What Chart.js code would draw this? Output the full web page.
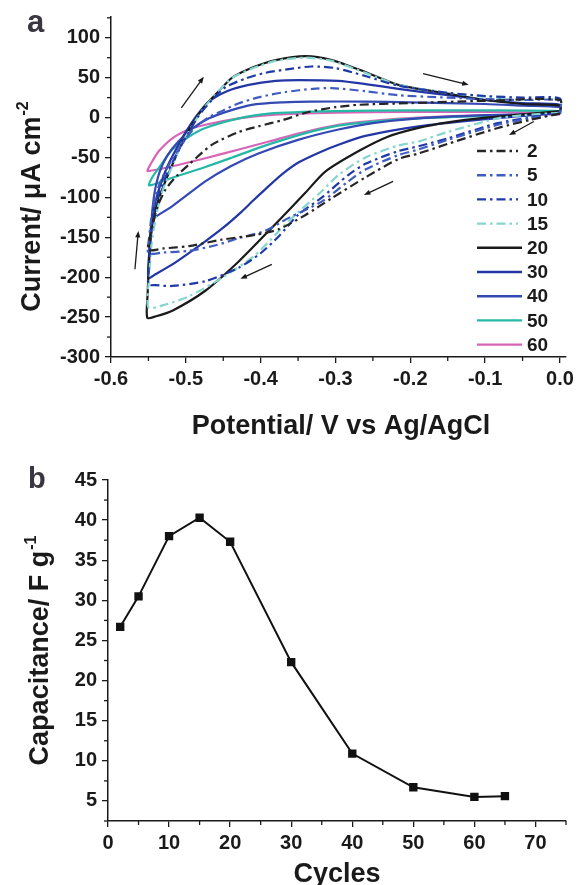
<!DOCTYPE html>
<html>
<head>
<meta charset="utf-8">
<script src="https://cdn.jsdelivr.net/npm/chart.js@4.4.1/dist/chart.umd.min.js"></script>
<style>
html, body { margin: 0; padding: 0; background: #fff; }
#wrapA { position: absolute; left: 0; top: 0; width: 578px; height: 450px; }
#wrapB { position: absolute; left: 0; top: 450px; width: 578px; height: 435px; }
</style>
</head>
<body>
<div id="wrapA"><canvas id="chartA" width="578" height="450"></canvas></div>
<div id="wrapB"><canvas id="chartB" width="578" height="435"></canvas></div>
<script>
// ---- panel a: CV loops, [potential V, current uA/cm2], cathodic sweep then anodic sweep
var cv2 = [[0,5],[-0.04,-3],[-0.083,-13],[-0.15,-33],[-0.189,-45],[-0.216,-52],[-0.26,-75],[-0.305,-101],[-0.34,-122],[-0.376,-140],[-0.407,-147],[-0.452,-153],[-0.496,-161],[-0.53,-164],[-0.55,-166],
  [-0.548,-150],[-0.545,-138],[-0.538,-112],[-0.527,-90],[-0.512,-73],[-0.496,-59],[-0.465,-34],[-0.429,-18],[-0.403,-11],[-0.37,-3],[-0.336,7],[-0.3,13],[-0.269,16],[-0.203,18],[-0.1,21],[0,22]];
var cv5 = [[0,5],[-0.04,-1],[-0.083,-9],[-0.15,-28],[-0.189,-40],[-0.216,-47],[-0.26,-65],[-0.283,-80],[-0.318,-105],[-0.363,-126],[-0.394,-142],[-0.429,-151],[-0.46,-160],[-0.496,-167],[-0.53,-169],[-0.55,-170],
  [-0.549,-150],[-0.546,-125],[-0.541,-100],[-0.533,-78],[-0.52,-55],[-0.505,-33],[-0.49,-15],[-0.47,0],[-0.45,9],[-0.429,18],[-0.4,26],[-0.367,32],[-0.33,36],[-0.305,37],[-0.26,33],[-0.216,28],[-0.15,25],[-0.1,23],[-0.05,22],[0,21]];
var cv10 = [[0,5],[-0.04,0],[-0.083,-7],[-0.15,-26],[-0.189,-36],[-0.216,-42],[-0.26,-58],[-0.283,-72],[-0.318,-100],[-0.35,-122],[-0.375,-148],[-0.4,-170],[-0.429,-188],[-0.474,-205],[-0.518,-211],[-0.54,-210],[-0.55,-209],
  [-0.549,-180],[-0.547,-150],[-0.543,-120],[-0.536,-95],[-0.525,-70],[-0.512,-45],[-0.5,-25],[-0.483,2],[-0.465,22],[-0.447,38],[-0.42,49],[-0.394,56],[-0.36,61],[-0.332,64],[-0.3,62],[-0.26,52],[-0.216,40],[-0.15,31],[-0.1,27],[-0.05,25],[0,24]];
var cv15 = [[0,6],[-0.05,3],[-0.083,-1],[-0.15,-18],[-0.189,-30],[-0.216,-35],[-0.26,-50],[-0.296,-72],[-0.318,-92],[-0.363,-130],[-0.407,-172],[-0.452,-201],[-0.496,-224],[-0.53,-235],[-0.55,-238],
  [-0.549,-200],[-0.546,-160],[-0.54,-125],[-0.533,-97],[-0.518,-60],[-0.505,-32],[-0.49,-8],[-0.475,13],[-0.456,33],[-0.438,50],[-0.41,62],[-0.38,71],[-0.34,75],[-0.305,71],[-0.26,56],[-0.216,41],[-0.15,31],[-0.1,26],[-0.05,23],[0,22]];
var cv20 = [[0,8],[-0.05,4],[-0.1,0],[-0.15,-6],[-0.189,-13],[-0.23,-24],[-0.269,-42],[-0.314,-68],[-0.34,-94],[-0.385,-138],[-0.429,-180],[-0.474,-217],[-0.518,-242],[-0.54,-249],[-0.5515,-251],
  [-0.551,-220],[-0.549,-180],[-0.545,-135],[-0.536,-101],[-0.518,-59],[-0.505,-32],[-0.492,-9],[-0.475,14],[-0.456,33],[-0.438,50],[-0.41,63],[-0.38,72],[-0.34,77],[-0.305,72],[-0.26,57],[-0.216,41],[-0.15,30],[-0.1,22],[-0.05,17],[0,15]];
var cv30 = [[0,6],[-0.05,2],[-0.1,-2],[-0.189,-11],[-0.26,-23],[-0.296,-34],[-0.32,-43],[-0.349,-56],[-0.37,-70],[-0.394,-90],[-0.41,-104],[-0.429,-121],[-0.45,-138],[-0.474,-155],[-0.518,-184],[-0.54,-196],[-0.55,-201],
  [-0.549,-170],[-0.547,-140],[-0.543,-115],[-0.536,-90],[-0.525,-62],[-0.512,-38],[-0.5,-18],[-0.485,3],[-0.469,20],[-0.445,33],[-0.416,41],[-0.38,46],[-0.349,47],[-0.296,46],[-0.26,42],[-0.216,36],[-0.15,28],[-0.1,22],[-0.05,18],[0,16]];
var cv40 = [[0,5],[-0.05,4],[-0.1,3],[-0.189,-1],[-0.25,-7],[-0.296,-15],[-0.35,-28],[-0.403,-45],[-0.44,-61],[-0.474,-80],[-0.518,-111],[-0.535,-121],[-0.545,-126],
  [-0.544,-110],[-0.541,-90],[-0.535,-68],[-0.525,-48],[-0.51,-30],[-0.49,-13],[-0.469,-1],[-0.44,9],[-0.412,16],[-0.37,19],[-0.332,20],[-0.26,20],[-0.2,19],[-0.1,17],[-0.05,15],[0,13]];
var cv50 = [[0,5],[-0.1,2],[-0.189,-1],[-0.25,-5],[-0.296,-10],[-0.33,-17],[-0.367,-27],[-0.403,-38],[-0.438,-50],[-0.474,-62],[-0.52,-76],[-0.549,-85],
  [-0.545,-75],[-0.536,-63],[-0.518,-40],[-0.496,-24],[-0.474,-13],[-0.429,-1],[-0.389,5],[-0.3,8],[-0.2,9],[-0.1,9],[0,8]];
var cv60 = [[0,4],[-0.1,3],[-0.189,0],[-0.25,-4],[-0.296,-9],[-0.35,-20],[-0.389,-30],[-0.429,-40],[-0.474,-51],[-0.518,-61],[-0.551,-67],
  [-0.548,-60],[-0.545,-55],[-0.536,-42],[-0.518,-26],[-0.496,-15],[-0.474,-9],[-0.429,-1],[-0.389,3],[-0.3,6],[-0.2,7],[-0.1,7],[0,6]];

var cycleLabels = ['2', '5', '10', '15', '20', '30', '40', '50', '60'];
var xTicksA = [-0.6, -0.5, -0.4, -0.3, -0.2, -0.1, 0.0];
var yTicksA = [-300, -250, -200, -150, -100, -50, 0, 50, 100];
// sweep direction arrows [x0, y0, x1, y1] in data units
var arrowsA = [[-0.506,12,-0.476,51],[-0.183,55,-0.122,41],[-0.035,-5,-0.068,-22],[-0.223,-80,-0.262,-97],[-0.385,-184,-0.427,-202],[-0.568,-190,-0.5635,-142]];

// ---- panel b: capacitance vs cycles
var cycles = [2, 5, 10, 15, 20, 30, 40, 50, 60, 65];
var capacitance = [26.7, 30.5, 38.0, 40.3, 37.3, 22.3, 10.9, 6.7, 5.5, 5.6];
var xTicksB = [0, 10, 20, 30, 40, 50, 60, 70];
var yTicksB = [5, 10, 15, 20, 25, 30, 35, 40, 45];

var FONT = "'Liberation Sans', Arial, sans-serif";
var INK = '#1a1a1a';
Chart.defaults.font.family = FONT;
Chart.defaults.font.weight = 'bold';
Chart.defaults.color = INK;

var DD = [9, 4, 2.5, 4];
var styles = [
  { color: '#262626', dash: DD },
  { color: '#3f5cc0', dash: DD },
  { color: '#1f3aa8', dash: DD },
  { color: '#86d5cf', dash: DD },
  { color: '#1a1a1a', dash: [] },
  { color: '#2236a6', dash: [] },
  { color: '#3349b3', dash: [] },
  { color: '#26b8a6', dash: [] },
  { color: '#d864b8', dash: [] }
];
var loops = [cv2, cv5, cv10, cv15, cv20, cv30, cv40, cv50, cv60];

function toPoints(arr) {
  var pts = arr.map(function(p) { return { x: p[0], y: p[1] }; });
  pts.push({ x: arr[0][0], y: arr[0][1] });
  return pts;
}

function fixTicks(list) {
  return function(scale) { scale.ticks = list.map(function(v) { return { value: v }; }); };
}

// short minor ticks between the labelled ones
var minorTicks = {
  id: 'minorTicks',
  afterDraw: function(chart, args, opts) {
    var ctx = chart.ctx;
    ctx.save();
    ctx.strokeStyle = INK;
    ctx.lineWidth = 1.3;
    ['x', 'y'].forEach(function(id) {
      var sc = chart.scales[id], step = opts[id];
      var n0 = Math.ceil(sc.min / step - 1e-6), n1 = Math.floor(sc.max / step + 1e-6);
      for (var n = n0; n <= n1; n++) {
        var v = n * step;
        if (sc.ticks.some(function(t) { return Math.abs(t.value - v) < step / 10; })) continue;
        var p = sc.getPixelForValue(v);
        ctx.beginPath();
        if (id === 'x') { ctx.moveTo(p, sc.top); ctx.lineTo(p, sc.top + 4); }
        else { ctx.moveTo(sc.right, p); ctx.lineTo(sc.right - 4, p); }
        ctx.stroke();
      }
    });
    ctx.restore();
  }
};

function drawTitle(ctx, main, sup, x, y, size, vertical) {
  ctx.save();
  ctx.translate(x, y);
  if (vertical) ctx.rotate(-Math.PI / 2);
  ctx.fillStyle = INK;
  ctx.textBaseline = 'alphabetic';
  ctx.font = 'bold ' + size + 'px ' + FONT;
  var w1 = ctx.measureText(main).width;
  var supSize = Math.round(size * 0.6);
  ctx.font = 'bold ' + supSize + 'px ' + FONT;
  var w2 = sup ? ctx.measureText(sup).width : 0;
  var x0 = -(w1 + w2) / 2;
  var base = size * 0.36;
  ctx.font = 'bold ' + size + 'px ' + FONT;
  ctx.fillText(main, x0, base);
  if (sup) {
    ctx.font = 'bold ' + supSize + 'px ' + FONT;
    ctx.fillText(sup, x0 + w1 + 1, base - size * 0.42);
  }
  ctx.restore();
}

var decorA = {
  id: 'decorA',
  afterDraw: function(chart) {
    var ctx = chart.ctx, xs = chart.scales.x, ys = chart.scales.y;
    // arrows
    ctx.save();
    ctx.strokeStyle = INK; ctx.fillStyle = INK; ctx.lineWidth = 1.3;
    arrowsA.forEach(function(a) {
      var x0 = xs.getPixelForValue(a[0]), y0 = ys.getPixelForValue(a[1]);
      var x1 = xs.getPixelForValue(a[2]), y1 = ys.getPixelForValue(a[3]);
      var ang = Math.atan2(y1 - y0, x1 - x0);
      ctx.beginPath(); ctx.moveTo(x0, y0); ctx.lineTo(x1 - 4 * Math.cos(ang), y1 - 4 * Math.sin(ang)); ctx.stroke();
      ctx.beginPath();
      ctx.moveTo(x1, y1);
      ctx.lineTo(x1 - 7 * Math.cos(ang - 0.38), y1 - 7 * Math.sin(ang - 0.38));
      ctx.lineTo(x1 - 7 * Math.cos(ang + 0.38), y1 - 7 * Math.sin(ang + 0.38));
      ctx.closePath(); ctx.fill();
    });
    ctx.restore();
    // legend
    ctx.save();
    ctx.font = 'bold 19px ' + FONT;
    ctx.textBaseline = 'middle';
    cycleLabels.forEach(function(lab, i) {
      var y = 151 + i * 24.2;
      ctx.strokeStyle = styles[i].color;
      ctx.lineWidth = 2.4;
      ctx.setLineDash(styles[i].dash);
      ctx.beginPath(); ctx.moveTo(477, y); ctx.lineTo(styles[i].dash.length ? 518 : 522, y); ctx.stroke();
      ctx.setLineDash([]);
      ctx.fillStyle = INK;
      ctx.fillText(lab, 527, y + 1);
    });
    ctx.restore();
    // titles
    drawTitle(ctx, 'Current/ \u03bcA cm', '-2', 30, 207, 27, true);
    drawTitle(ctx, 'Potential/ V vs Ag/AgCl', '', 341, 424, 27, false);
    ctx.save();
    ctx.font = 'bold 31px ' + FONT; ctx.fillStyle = '#3a3640';
    ctx.fillText('a', 27, 32);
    ctx.restore();
  }
};

var decorB = {
  id: 'decorB',
  afterDraw: function(chart) {
    var ctx = chart.ctx;
    drawTitle(ctx, 'Capacitance/ F g', '-1', 38, 201, 27, true);
    drawTitle(ctx, 'Cycles', '', 337, 422, 27, false);
    ctx.save();
    ctx.font = 'bold 29px ' + FONT; ctx.fillStyle = '#3a3640';
    ctx.fillText('b', 28, 38);
    ctx.restore();
  }
};

var tickFont = { size: 20, weight: 'bold', family: FONT };
var gridOpts = { drawOnChartArea: false, tickLength: 6, color: INK, lineWidth: 1.3 };
var borderOpts = { color: INK, width: 1.5 };

new Chart(document.getElementById('chartA'), {
  type: 'scatter',
  data: {
    datasets: loops.map(function(l, i) {
      return {
        label: cycleLabels[i],
        data: toPoints(l),
        showLine: true,
        borderColor: styles[i].color,
        borderDash: styles[i].dash,
        borderWidth: 2.2,
        pointRadius: 0,
        tension: 0.25,
        fill: false
      };
    })
  },
  options: {
    responsive: false,
    animation: false,
    devicePixelRatio: 1,
    layout: { padding: { left: 0, top: 15, right: 10, bottom: 0 } },
    plugins: { legend: { display: false }, tooltip: { enabled: false }, minorTicks: { x: 0.05, y: 25 } },
    scales: {
      x: {
        type: 'linear', min: -0.6, max: 0.008,
        afterBuildTicks: fixTicks(xTicksA),
        afterFit: function(s) { s.height = 93; },
        grid: gridOpts, border: borderOpts,
        ticks: { font: tickFont, color: INK, padding: 4, autoSkip: false, maxRotation: 0,
          callback: function(v) { return Number(v).toFixed(1); } }
      },
      y: {
        type: 'linear', min: -300, max: 126,
        afterBuildTicks: fixTicks(yTicksA),
        afterFit: function(s) { s.width = 111; },
        grid: gridOpts, border: borderOpts,
        ticks: { font: tickFont, color: INK, padding: 5, autoSkip: false }
      }
    }
  },
  plugins: [minorTicks, decorA]
});

new Chart(document.getElementById('chartB'), {
  type: 'scatter',
  data: {
    datasets: [{
      label: 'Capacitance',
      data: cycles.map(function(c, i) { return { x: c, y: capacitance[i] }; }),
      showLine: true,
      borderColor: '#111',
      borderWidth: 2,
      pointStyle: 'rect',
      pointRadius: 4.5,
      pointBackgroundColor: '#111',
      pointBorderColor: '#111',
      tension: 0
    }]
  },
  options: {
    responsive: false,
    animation: false,
    devicePixelRatio: 1,
    layout: { padding: { left: 0, top: 30, right: 12, bottom: 0 } },
    plugins: { legend: { display: false }, tooltip: { enabled: false }, minorTicks: { x: 5, y: 2.5 } },
    scales: {
      x: {
        type: 'linear', min: 0, max: 75,
        afterBuildTicks: fixTicks(xTicksB),
        afterFit: function(s) { s.height = 64; },
        grid: gridOpts, border: borderOpts,
        ticks: { font: tickFont, color: INK, padding: 4, autoSkip: false, maxRotation: 0 }
      },
      y: {
        type: 'linear', min: 2.5, max: 45,
        afterBuildTicks: fixTicks(yTicksB),
        afterFit: function(s) { s.width = 108; },
        grid: gridOpts, border: borderOpts,
        ticks: { font: tickFont, color: INK, padding: 5, autoSkip: false }
      }
    }
  },
  plugins: [minorTicks, decorB]
});
</script>
</body>
</html>
